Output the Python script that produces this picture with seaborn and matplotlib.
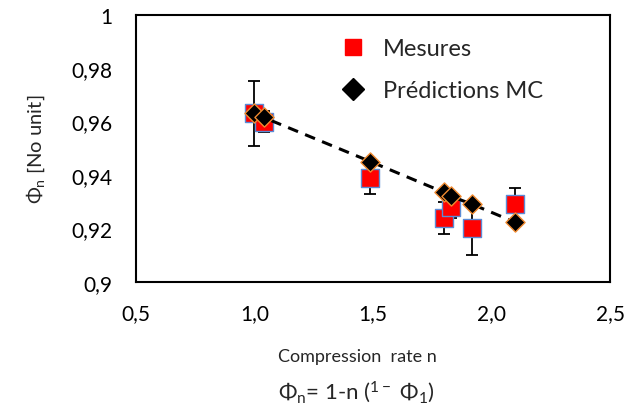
import numpy as np
import pandas as pd
import matplotlib
matplotlib.use("Agg")
import matplotlib.pyplot as plt
from matplotlib.lines import Line2D
from matplotlib.ticker import FuncFormatter
import seaborn as sns

# data
rate_n = [1.00, 1.04, 1.49, 1.80, 1.83, 1.92, 2.10]
mesures = [0.963, 0.960, 0.939, 0.924, 0.928, 0.920, 0.929]
mesures_err = [0.012, 0.004, 0.006, 0.006, 0.004, 0.010, 0.006]
predictions = [0.963, 0.9615, 0.945, 0.9335, 0.932, 0.929, 0.9223]

x_ticks = [0.5, 1.0, 1.5, 2.0, 2.5]
y_ticks = [0.90, 0.92, 0.94, 0.96, 0.98, 1.00]

df = pd.DataFrame({"n": rate_n, "mes": mesures, "err": mesures_err, "pred": predictions})

sns.set_style("white")
plt.rcParams["font.family"] = ["Lato", "DejaVu Sans"]
plt.rcParams["mathtext.fontset"] = "custom"
plt.rcParams["mathtext.rm"] = "Lato"
plt.rcParams["mathtext.it"] = "Lato"

fig = plt.figure(figsize=(6.41, 4.10), dpi=100)
ax = fig.add_axes([0.2117, 0.310, 0.740, 0.652])

# error bars under the markers
ax.errorbar(df["n"], df["mes"], yerr=df["err"], fmt="none", ecolor="black",
            elinewidth=1.3, capsize=4.5, capthick=1.3, zorder=1)

sns.scatterplot(data=df, x="n", y="mes", marker="s", s=150, color="#FF0000",
                edgecolor="#5B8BD6", linewidth=1.0, ax=ax, zorder=2)
sns.lineplot(data=df, x="n", y="pred", color="black", linestyle=(0, (3.5, 2.5)),
             linewidth=2.2, ax=ax, zorder=3)
sns.scatterplot(data=df, x="n", y="pred", marker="D", s=95, color="black",
                edgecolor="#F08A30", linewidth=1.0, ax=ax, zorder=4)

ax.set_xlim(0.5, 2.5)
ax.set_ylim(0.9, 1.0)
ax.set_xticks(x_ticks)
ax.set_yticks(y_ticks)
ax.xaxis.set_major_formatter(FuncFormatter(lambda v, p: f"{v:.1f}".replace(".", ",")))
ax.yaxis.set_major_formatter(FuncFormatter(lambda v, p: (f"{v:.2f}".rstrip("0").rstrip(".")).replace(".", ",")))
ax.tick_params(axis="both", direction="out", length=5, width=1.2, labelsize=15, colors="black")
ax.tick_params(axis="y", pad=12)
ax.tick_params(axis="x", pad=10)
for sp in ax.spines.values():
    sp.set_color("black")
    sp.set_linewidth(1.5)

ax.set_xlabel("")
ax.set_ylabel(r"$\Phi_n$ [No unit]", fontsize=14.5)
ax.yaxis.set_label_coords(-0.187, 0.5)

fig.text(0.557, 0.129, "Compression  rate n", ha="center", va="center", fontsize=13)
fig.text(0.556, 0.044, r"$\Phi_n$= 1-n ($^{1-}$ $\Phi_1$)", ha="center", va="center", fontsize=16)

handles = [
    Line2D([], [], marker="s", linestyle="none", color="#FF0000", markersize=11),
    Line2D([], [], marker="D", linestyle="none", color="black", markersize=11),
]
fig.legend(handles, ["Mesures", "Prédictions MC"], loc="upper left",
           bbox_to_anchor=(0.529, 0.905), frameon=False, fontsize=17,
           handlelength=1.2, handletextpad=0.65, labelspacing=0.9,
           borderpad=0, borderaxespad=0)

fig.savefig("out.png", dpi=100)
